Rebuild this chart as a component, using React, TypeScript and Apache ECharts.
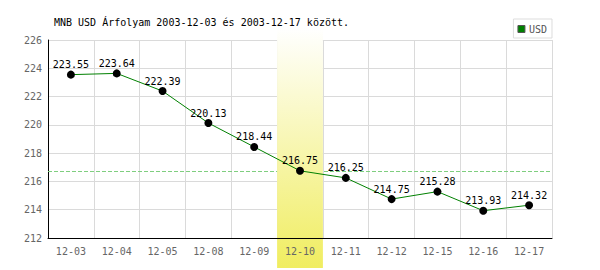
import React, { useEffect, useRef } from "react";
import * as echarts from "echarts";

const TITLE = "MNB USD Árfolyam 2003-12-03 és 2003-12-17 között.";
const CATEGORIES = ["12-03", "12-04", "12-05", "12-08", "12-09", "12-10", "12-11", "12-12", "12-15", "12-16", "12-17"];
const USD = [223.55, 223.64, 222.39, 220.13, 218.44, 216.75, 216.25, 214.75, 215.28, 213.93, 214.32];
const REFERENCE_VALUE = 216.75;
const HIGHLIGHT = "12-10";
const Y_MIN = 212;
const Y_MAX = 226;
const Y_STEP = 2;

const FONT = "DejaVu Sans Mono";

export default function App() {
  const ref = useRef<HTMLDivElement>(null);

  useEffect(() => {
    if (!ref.current) return;
    const chart = echarts.init(ref.current, null, { renderer: "svg" });
    const option: any = {
      animation: false,
      backgroundColor: "#ffffff",
      title: {
        text: TITLE,
        left: 54,
        top: 17,
        padding: 0,
        textStyle: { fontFamily: FONT, fontSize: 10, fontWeight: "normal", color: "#000" },
      },
      legend: {
        data: [{ name: "USD", itemStyle: { color: "#008000", borderColor: "#555", borderWidth: 1 } }],
        right: 48,
        top: 19,
        padding: [5, 5, 4, 4],
        borderColor: "#dddddd",
        borderWidth: 1,
        itemWidth: 7,
        itemHeight: 7,
        itemGap: 4,
        icon: "rect",
        textStyle: { fontFamily: FONT, fontSize: 10, color: "#555", padding: [0, 0, 0, -1] },
      },
      grid: { left: 48, right: 48, top: 40, bottom: 32, containLabel: false },
      xAxis: [
        {
          type: "category",
          data: CATEGORIES,
          position: "bottom",
          z: 0,
          boundaryGap: true,
          axisLine: { show: false },
          axisTick: { show: false },
          axisLabel: { show: false },
          splitLine: { show: true, lineStyle: { color: "#dadada", width: 1 } },
        },
        {
          type: "category",
          data: CATEGORIES,
          position: "bottom",
          z: 5,
          boundaryGap: true,
          axisLine: { show: true, lineStyle: { color: "#000", width: 1 } },
          axisTick: { show: false },
          axisLabel: { show: true, margin: 8, fontFamily: FONT, fontSize: 10, color: "#666" },
          splitLine: { show: false },
        },
      ],
      yAxis: {
        type: "value",
        min: Y_MIN,
        max: Y_MAX,
        interval: Y_STEP,
        z: 0,
        axisLine: { show: true, lineStyle: { color: "#000", width: 1 } },
        axisTick: { show: false },
        axisLabel: { margin: 6, fontFamily: FONT, fontSize: 10, color: "#666" },
        splitLine: { show: true, lineStyle: { color: "#dadada", width: 1 } },
      },
      series: [
        {
          name: "ref",
          type: "line",
          xAxisIndex: 0,
          z: 0.5,
          data: USD,
          showSymbol: false,
          symbol: "none",
          color: "#7fce7f",
          lineStyle: { width: 0 },
          silent: true,
          markLine: {
            silent: true,
            z: 0.5,
            symbol: "none",
            label: { show: false },
            lineStyle: { color: "#7fce7f", opacity: 1, type: [4, 2], width: 1 },
            emphasis: { disabled: true },
            data: [{ yAxis: REFERENCE_VALUE }],
          },
        },
        {
          name: "USD",
          type: "line",
          xAxisIndex: 0,
          z: 3,
          data: USD,
          symbol: "circle",
          symbolSize: 8,
          itemStyle: { color: "#000" },
          lineStyle: { color: "#008000", width: 1 },
          label: {
            show: true,
            position: "top",
            distance: 1,
            fontFamily: FONT,
            fontSize: 10,
            color: "#000",
            formatter: (p: any) => p.value.toFixed(2),
          },
        },
      ],
    };
    chart.setOption(option);

    const idx = CATEGORIES.indexOf(HIGHLIGHT);
    const cx = chart.convertToPixel({ xAxisIndex: 0 }, HIGHLIGHT) as number;
    const nx = chart.convertToPixel({ xAxisIndex: 0 }, CATEGORIES[idx + 1]) as number;
    const w = nx - cx;
    chart.setOption({
      graphic: [
        {
          type: "rect",
          z: 1,
          silent: true,
          shape: { x: cx - w / 2, y: 28, width: w, height: 240 },
          style: {
            fill: new echarts.graphic.LinearGradient(0, 0, 0, 1, [
              { offset: 0, color: "rgba(255,255,255,1)" },
              { offset: 1, color: "rgba(240,237,96,1)" },
            ]),
          },
        },
      ],
    });

    return () => chart.dispose();
  }, []);

  return <div ref={ref} style={{ position: "absolute", left: 0, top: 0, width: 600, height: 270 }} />;
}
